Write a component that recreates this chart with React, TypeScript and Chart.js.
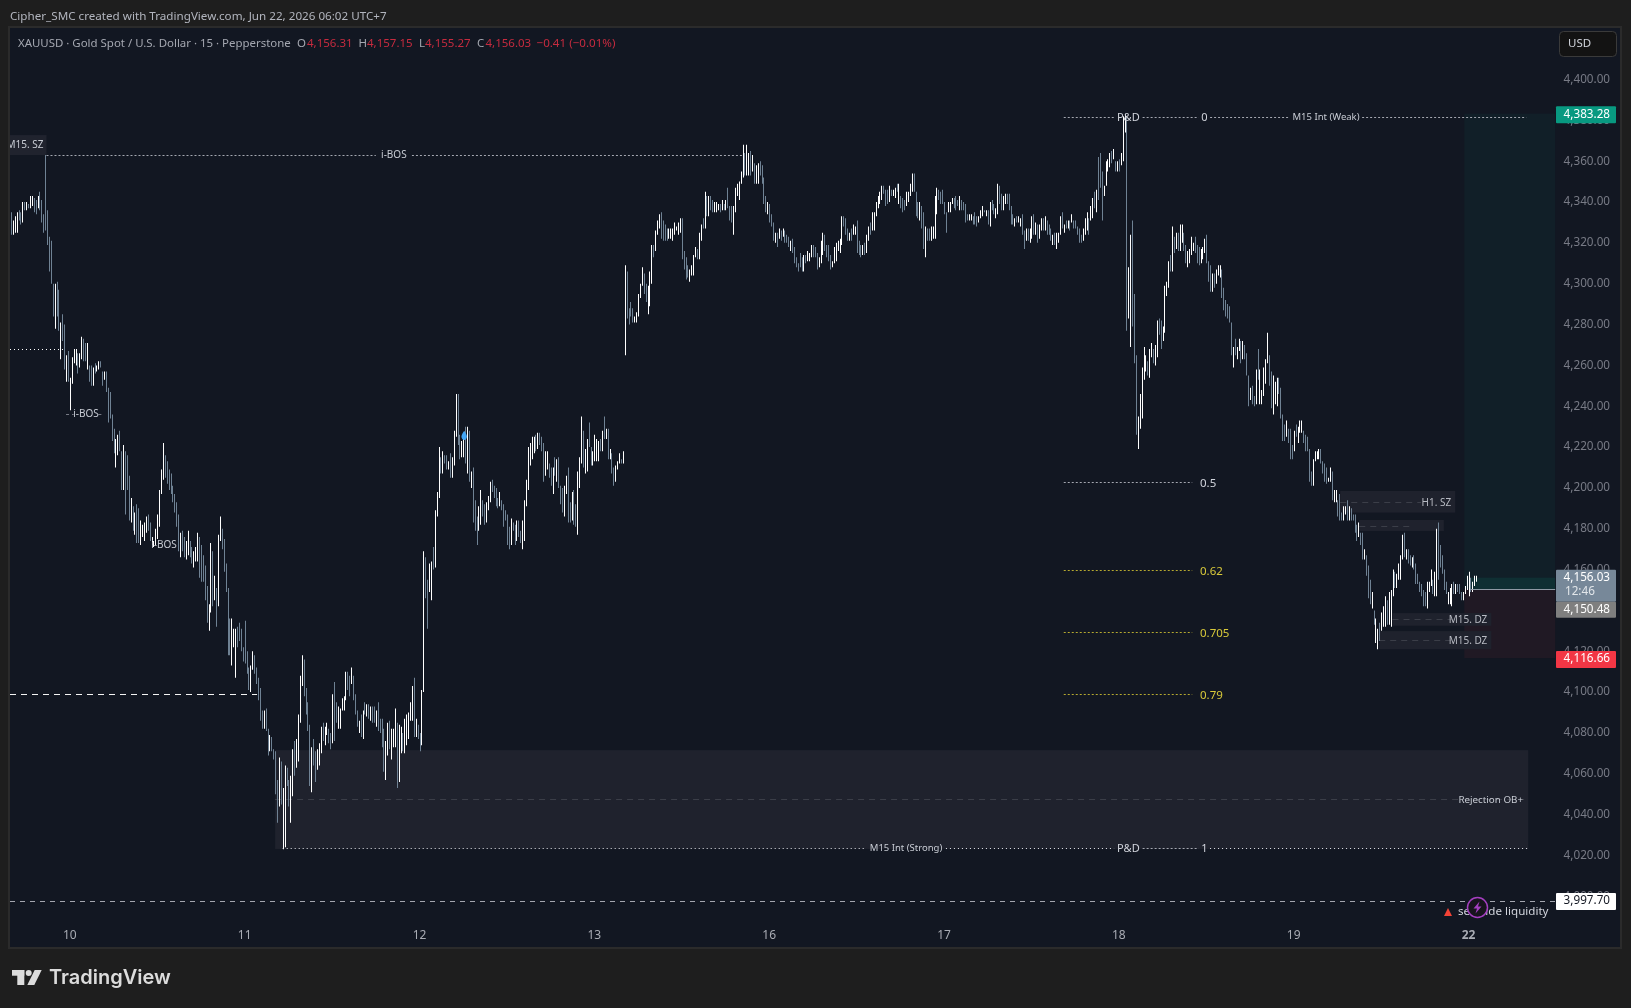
import React, { useEffect, useRef } from "react";
import { Chart, registerables } from "chart.js";

Chart.register(...registerables);

const FONT = '"Noto Sans", sans-serif';
const PANE = "#121722";
const BOX = "#1f222d";

// ---- day labels on the time axis: label and the bar it sits under ----
const dayNames = ["10", "11", "12", "13", "16", "17", "18", "19", "22"];
const dayBars = [31, 123, 215, 307, 399, 491, 583, 675, 767];
const barSlots = 813;

// ---- 15-minute bars, as low / high and up(1) / down(0) ----
const lowsA = [4324,4324,4325,4325,4331,4329,4330,4336,4336,4337,4337,4338,4335,4334,4337,4336,4330,4325,4326,4319,
4306,4300,4284,4278,4284,4277,4263,4272,4258,4252,4252,4238,4251,4261,4260,4256,4259,4263,4262,4262,
4258,4252,4250,4250,4256,4257,4258,4259,4250,4253,4247,4232,4234,4223,4217,4210,4216,4218,4199,4199,
4187,4199,4184,4183,4179,4177,4173,4173,4172,4176,4174,4178,4179,4174,4172,4171,4172,4175,4181,4197,
4204,4205,4202,4199,4197,4193,4188,4181,4169,4166,4169,4166,4165,4167,4166,4163,4161,4164,4164,4156];
const highsA = [4335,4331,4333,4335,4336,4335,4340,4340,4340,4339,4343,4343,4342,4341,4343,4345,4341,4334,4363,4336,
4323,4321,4300,4300,4301,4297,4281,4285,4280,4265,4267,4254,4264,4268,4268,4266,4266,4274,4273,4271,
4271,4260,4260,4259,4261,4260,4262,4262,4257,4257,4257,4249,4247,4236,4229,4224,4226,4228,4218,4221,
4218,4216,4206,4195,4191,4188,4192,4190,4184,4182,4183,4186,4187,4183,4176,4174,4180,4187,4199,4209,
4222,4216,4213,4209,4207,4201,4197,4193,4187,4178,4179,4176,4174,4179,4174,4171,4169,4171,4178,4176];
const upsA = "0111001010"+"1100100000"+"0001001001"+"0111101100"+"1001011001"+"0000011001"+"0001010011"+"1100111111"+"1000000001"+"0011001110";

const lowsB = [4154,4154,4145,4134,4130,4139,4142,4145,4132,4142,4174,4170,4159,4149,4118,4118,4113,4122,4107,4122,
4125,4120,4115,4114,4109,4101,4100,4111,4109,4104,4096,4086,4082,4082,4081,4069,4071,4071,4067,4050,
4036,4044,4045,4023,4024,4054,4044,4036,4049,4059,4063,4066,4085,4103,4098,4089,4081,4054,4051,4064,
4056,4062,4064,4070,4076,4074,4079,4075,4072,4075,4076,4085,4082,4082,4091,4091,4096,4101,4098,4104,
4096,4089,4083,4080,4078,4077,4089,4088,4087,4086,4085,4085,4083,4081,4080,4073,4061,4057,4069,4072,
4067,4073,4073,4053,4056,4070,4071,4070,4074,4077,4086,4086,4078,4078,4077,4071,4074,4100,4146,4131,
4149,4145,4160,4161,4186];
const highsB = [4172,4167,4162,4152,4143,4173,4169,4157,4151,4177,4186,4180,4175,4163,4151,4136,4136,4131,4131,4132,
4134,4131,4122,4135,4120,4112,4113,4120,4118,4112,4107,4102,4091,4091,4092,4082,4079,4078,4072,4071,
4057,4068,4066,4053,4064,4063,4057,4059,4072,4076,4077,4089,4108,4118,4116,4102,4095,4084,4073,4077,
4071,4072,4075,4083,4085,4083,4085,4082,4080,4099,4105,4095,4093,4092,4097,4098,4110,4110,4108,4112,
4108,4099,4091,4086,4089,4091,4095,4094,4094,4093,4093,4093,4091,4095,4087,4087,4082,4076,4085,4086,
4082,4082,4092,4085,4084,4083,4080,4087,4089,4090,4095,4103,4107,4087,4084,4080,4101,4169,4166,4155,
4163,4164,4171,4189,4198];
const upsB = "0000110101"+"1000001110"+"0000001100"+"0001001000"+"0101100110"+"1111000010"+"0111011001"+"0011111001"+"0001010101"+"0010000110"+"1110110111"+"1101001100"+"11011";

const lowsC = [4195,4207,4207,4212,4209,4209,4205,4205,4211,4225,4221,4214,4215,4215,4212,4207,4203,4200,4183,4179,
4172,4179,4182,4186,4182,4183,4189,4193,4198,4195,4191,4190,4191,4189,4181,4184,4172,4170,4172,4179,
4172,4174,4176,4173,4170,4174,4191,4199,4211,4214,4217,4218,4219,4221,4218,4203,4206,4209,4205,4201,
4197,4206,4203,4200,4192,4188,4186,4197,4183,4183,4184,4182,4181,4177,4200,4212,4210,4207,4208,4220,
4211,4211,4213,4213,4213,4218,4218,4224,4224,4214,4214,4207,4201,4203,4209,4212,4212,4212];
const highsC = [4220,4215,4218,4216,4216,4213,4217,4215,4228,4246,4246,4226,4223,4224,4230,4230,4228,4208,4210,4194,
4186,4191,4199,4194,4192,4193,4196,4203,4204,4201,4200,4195,4198,4194,4192,4189,4187,4181,4185,4183,
4182,4184,4184,4179,4184,4194,4204,4220,4222,4225,4225,4226,4227,4227,4225,4222,4218,4218,4212,4210,
4210,4215,4214,4215,4201,4200,4201,4206,4210,4193,4198,4199,4192,4208,4215,4235,4228,4219,4224,4232,
4220,4218,4226,4224,4223,4224,4228,4235,4229,4229,4219,4217,4210,4211,4213,4217,4214,4218];
const upsC = "1010010111"+"0011010100"+"0110011100"+"0010000010"+"0100111111"+"1010001100"+"1010001100"+"1001110110"+"0111101010"+"10011101";

const lowsD = [4265,4283,4280,4284,4281,4281,4281,4284,4293,4299,4295,4291,4285,4289,4300,4313,4316,4324,4327,4322,
4321,4321,4321,4322,4322,4321,4324,4326,4324,4325,4312,4307,4302,4303,4301,4304,4304,4313,4312,4312,
4321,4327,4327,4333,4333,4336,4335,4335,4335,4336,4335,4336,4336,4336,4337,4331,4330,4324,4335,4343,
4341,4349,4352,4353,4353,4353,4353,4355,4349,4349,4349,4353,4349,4339,4335,4334,4330,4328,4321,4320,
4318,4322,4321,4323,4320,4320,4318,4316,4315,4310,4308,4306,4308,4306,4306,4310,4311,4311,4313,4313,
4313,4307,4308];
const highsD = [4309,4306,4288,4291,4288,4284,4286,4295,4300,4308,4305,4300,4299,4306,4319,4319,4326,4331,4334,4335,
4331,4329,4327,4327,4327,4327,4330,4328,4330,4332,4332,4316,4313,4309,4307,4309,4314,4318,4317,4325,
4329,4332,4345,4343,4343,4343,4341,4340,4340,4339,4339,4341,4339,4341,4347,4338,4338,4338,4347,4349,
4350,4355,4368,4364,4368,4364,4365,4363,4359,4358,4359,4360,4358,4352,4343,4340,4339,4334,4330,4325,
4325,4327,4326,4327,4326,4324,4323,4321,4322,4318,4313,4310,4315,4313,4314,4314,4316,4315,4319,4319,
4318,4315,4313];
const upsD = "1000011111"+"0011101110"+"0001111111"+"0000111101"+"1010100111"+"0101000111"+"1110110101"+"1000010001"+"0101000100"+"0000101110"+"001";

const lowsE = [4310,4314,4316,4313,4311,4307,4308,4310,4311,4316,4315,4319,4328,4324,4321,4321,4321,4324,4324,4315,
4314,4313,4314,4314,4315,4321,4324,4326,4326,4333,4337,4339,4341,4344,4338,4339,4340,4343,4343,4342,
4345,4339,4337,4335,4336,4338,4340,4343,4345,4345,4333,4332,4331,4327,4317,4313,4321,4321,4321,4322,
4322,4334,4341,4339,4339,4334,4325,4335,4335,4339,4337,4336,4338,4336,4336,4336,4330,4331,4331,4331,
4329,4329,4328,4330,4332,4333,4335,4333,4329,4328,4336,4334,4332,4334,4339,4336,4336,4339,4339,4336,
4329,4329,4328,4330,4330,4328,4324,4317,4321,4321,4320,4322,4324,4324,4320,4322,4326,4326,4326,4324,
4324,4321,4319,4319,4317,4320,4324,4327,4325,4327,4327,4326,4330,4327,4327,4324,4320,4320,4321,4324,
4326,4324,4331,4332,4337,4335,4341,4347,4331,4343,4348,4355];
const highsE = [4321,4325,4324,4319,4319,4314,4311,4318,4320,4321,4322,4333,4333,4332,4327,4325,4327,4329,4328,4331,
4321,4319,4319,4320,4324,4328,4330,4335,4335,4340,4343,4345,4348,4348,4346,4346,4348,4346,4346,4347,
4349,4349,4343,4342,4341,4345,4345,4349,4354,4354,4345,4340,4340,4338,4335,4328,4327,4327,4328,4328,
4343,4347,4346,4345,4346,4340,4335,4340,4340,4342,4342,4343,4341,4343,4341,4340,4339,4334,4334,4334,
4333,4335,4333,4333,4336,4338,4336,4336,4336,4340,4341,4339,4337,4349,4348,4344,4343,4344,4344,4344,
4338,4334,4332,4333,4333,4332,4334,4326,4327,4327,4327,4333,4334,4330,4329,4329,4332,4332,4333,4331,
4329,4327,4324,4325,4325,4325,4333,4335,4329,4331,4331,4331,4334,4331,4331,4328,4327,4324,4327,4332,
4335,4332,4338,4342,4345,4346,4362,4364,4355,4348,4360,4361];
const upsE = "1100001111"+"1100010110"+"0010110111"+"1110001011"+"0100011110"+"0010010011"+"1100000111"+"0001000011"+"0001110101"+"0011001100"+"0010110010"+"1101011010"+"0010111010"+"1010000011"+"1011010001"+"11";

const lowsF = [4357,4359,4361,4355,4355,4355,4358,4360,4374,4277,4283,4269,4279,4261,4226,4219,4229,4234,4253,4257,
4255,4254,4264,4261,4260,4264,4275,4268,4272,4276,4294,4298,4306,4306,4315,4317,4316,4316,4320,4316,
4310,4308,4310,4314,4316,4315,4310,4309,4310,4312,4315,4310,4301,4296,4296,4298,4300,4304,4303,4293,
4287,4284,4283,4281,4265,4259,4265,4263,4267,4261,4263,4263,4255,4240,4243,4241,4240,4241,4253,4241,
4241,4245,4251,4261,4250,4239,4236,4241,4240,4246,4234,4223,4223,4225,4222,4214,4214,4218,4225,4222,
4227,4227,4222,4218,4218];
const highsF = [4364,4365,4366,4360,4360,4361,4364,4382,4383,4382,4308,4324,4331,4295,4265,4235,4246,4259,4269,4265,
4262,4268,4271,4268,4270,4282,4283,4282,4279,4299,4301,4311,4314,4328,4323,4325,4325,4329,4329,4325,
4319,4316,4317,4323,4320,4323,4319,4318,4317,4318,4322,4324,4311,4309,4305,4305,4307,4309,4309,4307,
4298,4292,4290,4289,4281,4269,4273,4269,4273,4272,4272,4270,4266,4255,4249,4250,4245,4258,4268,4258,
4248,4259,4263,4276,4265,4257,4255,4252,4254,4254,4249,4236,4231,4233,4229,4229,4221,4228,4231,4230,
4233,4233,4228,4226,4225];
const upsF = "1010101110"+"1100011111"+"0110110011"+"1101010110"+"0111100011"+"1000101110"+"0000010110"+"1000100101"+"1111001110"+"0001000101"+"11000";

const lowsG = [4203,4201,4201,4213,4214,4214,4212,4207,4203,4202,4203,4203,4194,4193,4193,4186,4184,4184,4184,4187,4184,4184,4184,4184,4178];
const highsG = [4219,4208,4214,4218,4218,4219,4219,4213,4212,4210,4205,4210,4208,4199,4199,4194,4197,4188,4191,4191,4194,4191,4190,4187,4187];
const upsG = "0011110000"+"1101100011"+"01000";

const lowsH = [4174,4176,4172,4165,4165,4157,4146,4143,4141,4133,4124,4121,4125,4130,4132,4132,4133,4133,4132,4147,
4151,4151,4155,4155,4165,4166,4165,4163,4162,4161,4160,4153,4153,4149,4147,4142,4142,4141,4149,4152,
4148,4147,4147,4155,4161,4158,4150,4148,4143,4143,4142,4148,4148,4149,4148,4145,4145,4148,4150,4147,
4149,4149,4152,4154];
const highsH = [4182,4183,4178,4178,4170,4167,4162,4155,4149,4140,4136,4131,4134,4139,4142,4147,4145,4149,4150,4160,
4159,4158,4163,4167,4177,4178,4170,4170,4167,4166,4167,4163,4158,4154,4153,4150,4149,4154,4154,4160,
4155,4159,4180,4183,4172,4167,4160,4154,4149,4151,4153,4154,4153,4153,4153,4149,4149,4152,4157,4159,
4156,4154,4157,4157];
const upsH = "0100100010"+"1101110111"+"0111101001"+"0000000111"+"0110000011"+"1010001111"+"0111";

const lows = [...lowsA, ...lowsB, ...lowsC, ...lowsD, ...lowsE, ...lowsF, ...lowsG, ...lowsH];
const highs = [...highsA, ...highsB, ...highsC, ...highsD, ...highsE, ...highsF, ...highsG, ...highsH];
const ups = (upsA + upsB + upsC + upsD + upsE + upsF + upsG + upsH).split("");

// ---- fib / structure levels ----
const fibLabels = ["0.5", "0.62", "0.705", "0.79"];
const fibPrices = [4202.7, 4159.6, 4129.3, 4098.9];
const fibColors = ["#a4a7b0", "#b5a92f", "#b5a92f", "#b5a92f"];
const fibTextColors = ["#d1d4dc", "#d8c93a", "#d8c93a", "#d8c93a"];
const topLevel = 4381.8;
const bottomLevel = 4023.5;
const ibosLevel = 4363;
const ibos2Level = 4236;
const dottedLevel = 4268;
const dashedLevel = 4098.9;
const liquidityLevel = 3997.7;

// ---- zones ----
const obTop = 4071.6, obBottom = 4023.2, obMid = 4047.5;
const zoneNames = ["H1. SZ", "", "M15. DZ", "M15. DZ"];
const zoneFrom = [699.5, 709.5, 727, 720];
const zoneTo = [760, 754, 779, 779];
const zoneTop = [4198.5, 4184.3, 4138.7, 4129.9];
const zoneBottom = [4187.9, 4178.9, 4132.5, 4121];
const zoneMid = [4193, 4181.5, 4135.8, 4125.3];

// ---- position tool and price badges ----
const targetPrice = 4383.28, lastPrice = 4156.03, entryPrice = 4150.48, stopPrice = 4116.66;

function drawAll(chart: any, phase: string) {
  const ctx = chart.ctx;
  const xs = chart.scales.x;
  const ys = chart.scales.y;
  const X = (i: number) => xs.getPixelForValue(i);
  const Y = (p: number) => ys.getPixelForValue(p);
  const CY = (p: number) => Math.round(Y(p)) + 0.5;

  const hline = (a: number, b: number, p: number, color: string, dash: number[]) => {
    ctx.save();
    ctx.strokeStyle = color;
    ctx.lineWidth = 1;
    ctx.setLineDash(dash);
    ctx.beginPath();
    ctx.moveTo(X(a), CY(p));
    ctx.lineTo(X(b), CY(p));
    ctx.stroke();
    ctx.restore();
  };
  const label = (s: string, x: number, y: number, color: string, size: number, align: CanvasTextAlign = "center") => {
    ctx.save();
    ctx.font = `${size}px ${FONT}`;
    ctx.textAlign = align;
    ctx.textBaseline = "middle";
    ctx.fillStyle = color;
    ctx.fillText(s, x, y);
    ctx.restore();
  };
  const box = (a: number, b: number, top: number, bottom: number, color: string) => {
    ctx.fillStyle = color;
    ctx.fillRect(X(a), Y(top), X(b) - X(a), Y(bottom) - Y(top));
  };

  if (phase === "before") {
    // outer frame and pane
    ctx.fillStyle = "#1e1e1e";
    ctx.fillRect(0, 0, 1631, 1008);
    ctx.fillStyle = PANE;
    ctx.fillRect(10, 28, 1610, 919);
    ctx.strokeStyle = "#2b2b2b";
    ctx.lineWidth = 2;
    ctx.strokeRect(9, 27, 1612, 921);
    return;
  }

  if (phase === "under") {
    box(764.8, 812.6, targetPrice, entryPrice, "rgba(8,153,129,0.065)");
    box(764.8, 812.6, entryPrice, stopPrice, "rgba(242,54,69,0.065)");
    box(768, 812.6, lastPrice, entryPrice, "rgba(8,153,129,0.13)");
    box(139, 798.4, obTop, obBottom, BOX);
    box(-0.5, 18.7, 4372.8, ibosLevel, "#20232e");
    zoneNames.forEach((_n, i) => box(zoneFrom[i], zoneTo[i], zoneTop[i], zoneBottom[i], BOX));
    hline(139, 798.4, obMid, "#3b3e48", [6, 5]);
    zoneNames.forEach((_n, i) => hline(zoneFrom[i], zoneTo[i] - 18, zoneMid[i], "#3b3e48", [6, 5]));
    return;
  }

  // ---- over the bars ----
  const lineCol = "#a4a7b0";
  const tick = [2, 2];
  hline(18.7, 192, ibosLevel, lineCol, tick);
  hline(211, 385, ibosLevel, lineCol, tick);
  label("i-BOS", X(201.5), CY(ibosLevel), "#c8ccd4", 10, "center");
  hline(-0.5, 27.4, dottedLevel, "#ffffff", [1, 3]);
  hline(29, 33, ibos2Level, "#787b86", [3, 3]);
  hline(46, 49, ibos2Level, "#787b86", [3, 3]);
  label("i-BOS", X(39.5), CY(ibos2Level), "#c8ccd4", 10, "center");
  label("i-BOS", X(80.5), Y(4172), "#c8ccd4", 10, "center");
  hline(-0.5, 129.5, dashedLevel, "#f4f4f4", [6, 5]);
  hline(-0.5, 812.6, liquidityLevel, "#a4a7b0", [5, 5]);

  hline(554, 580.5, topLevel, lineCol, tick);
  hline(595.5, 625, topLevel, lineCol, tick);
  hline(631, 673, topLevel, lineCol, tick);
  hline(711, 797.4, topLevel, lineCol, tick);
  label("P&D", X(588), CY(topLevel), "#d1d4dc", 11, "center");
  label("0", X(628), CY(topLevel), "#d1d4dc", 11, "center");
  label("M15 Int (Weak)", X(692), CY(topLevel), "#c8ccd4", 9.5, "center");

  const dots = [1, 3];
  hline(143, 450, bottomLevel, "#e6e8ee", dots);
  hline(492, 580.5, bottomLevel, "#e6e8ee", dots);
  hline(595.5, 625, bottomLevel, lineCol, tick);
  hline(631, 798.4, bottomLevel, "#e6e8ee", dots);
  label("M15 Int (Strong)", X(471), CY(bottomLevel), "#c8ccd4", 9.5, "center");
  label("P&D", X(588), CY(bottomLevel), "#d1d4dc", 11, "center");
  label("1", X(628), CY(bottomLevel), "#d1d4dc", 11, "center");

  fibLabels.forEach((s, i) => {
    hline(554, 621.6, fibPrices[i], fibColors[i], tick);
    label(s, 1200, CY(fibPrices[i]) + 1, fibTextColors[i], 11.5, "left");
  });

  label("Rejection OB+", 1523, CY(obMid) + 1, "#c8ccd4", 9.8, "right");
  ctx.save();
  ctx.beginPath();
  ctx.rect(10, 130, 60, 30);
  ctx.clip();
  label("M15. SZ", 43.5, 145, "#c8ccd4", 10, "right");
  ctx.restore();
  zoneNames.forEach((s, i) => {
    if (s) label(s, X(zoneTo[i]) - 4, CY(zoneMid[i]) + 1, "#b8bbc3", 10, "right");
  });

  // entry line of the position tool
  ctx.fillStyle = "#8f9aa5";
  ctx.fillRect(X(768), Math.round(Y(entryPrice)), X(812.6) - X(768), 1);

  // blue marker
  ctx.fillStyle = "#42a5f5";
  const mx = X(238.5), my = Y(4225.5);
  ctx.beginPath();
  ctx.moveTo(mx, my - 5);
  ctx.quadraticCurveTo(mx + 3.5, my, mx + 2.5, my + 2);
  ctx.arc(mx, my + 1.5, 2.6, 0.2, Math.PI - 0.2);
  ctx.quadraticCurveTo(mx - 3.5, my, mx, my - 5);
  ctx.fill();

  // sell-side liquidity
  ctx.fillStyle = "#f44336";
  ctx.beginPath();
  ctx.moveTo(1448, 908);
  ctx.lineTo(1452, 916);
  ctx.lineTo(1444, 916);
  ctx.closePath();
  ctx.fill();
  label("sell-side liquidity", 1458, 912, "#d1d4dc", 11.6, "left");
  ctx.beginPath();
  ctx.arc(1477.5, 907.5, 10, 0, Math.PI * 2);
  ctx.fillStyle = "#17141d";
  ctx.fill();
  ctx.lineWidth = 1.5;
  ctx.strokeStyle = "#a43fc0";
  ctx.stroke();
  ctx.fillStyle = "#a43fc0";
  ctx.beginPath();
  ctx.moveTo(1479.5, 901.5);
  ctx.lineTo(1473.5, 908.5);
  ctx.lineTo(1477, 908.5);
  ctx.lineTo(1475.5, 913.5);
  ctx.lineTo(1481.5, 906.5);
  ctx.lineTo(1478, 906.5);
  ctx.closePath();
  ctx.fill();

  // price badges
  const badge = (top: number, h: number, bg: string) => {
    ctx.fillStyle = bg;
    ctx.beginPath();
    ctx.roundRect(1556, top, 60, h, 1);
    ctx.fill();
  };
  const bx = 1610;
  const by = (p: number) => Y(p);
  const sz = 11.7;
  badge(by(targetPrice) - 7.5, 17, "#089981");
  label("4,383.28", bx, by(targetPrice) + 1, "#ffffff", sz, "right");
  badge(by(lastPrice) - 8, 32, "#778899");
  label("4,156.03", bx, by(lastPrice), "#ffffff", sz, "right");
  label("12:46", 1565, by(lastPrice) + 14, "#e2e6ea", sz, "left");
  badge(by(lastPrice) + 24, 16, "#7f7f7f");
  label("4,150.48", bx, by(lastPrice) + 32, "#ffffff", sz, "right");
  badge(by(stopPrice) - 7, 17, "#f23645");
  label("4,116.66", bx, by(stopPrice) + 1, "#ffffff", sz, "right");
  badge(by(liquidityLevel) - 8, 17, "#ffffff");
  label("3,997.70", bx, by(liquidityLevel), "#131722", sz, "right");

  // USD button
  ctx.fillStyle = "#131313";
  ctx.strokeStyle = "#3a3a3a";
  ctx.lineWidth = 1;
  ctx.beginPath();
  ctx.roundRect(1559.5, 31.5, 57, 25, 4);
  ctx.fill();
  ctx.stroke();
  label("USD", 1568, 44, "#d1d4dc", 11.5, "left");

  // header texts
  label("Cipher_SMC created with TradingView.com, Jun 22, 2026 06:02 UTC+7", 10, 16.5, "#b2b5be", 11.65, "left");
  const hy = 44;
  label("XAUUSD · Gold Spot / U.S. Dollar · 15 · Pepperstone", 18, hy, "#a4a7b0", 11.45, "left");
  const red = "#c62b3f";
  const gray = "#a4a7b0";
  label("O", 297, hy, gray, 11.5, "left");
  label("4,156.31", 307, hy, red, 11.5, "left");
  label("H", 358.5, hy, gray, 11.5, "left");
  label("4,157.15", 367, hy, red, 11.5, "left");
  label("L", 419, hy, gray, 11.5, "left");
  label("4,155.27", 425, hy, red, 11.5, "left");
  label("C", 477, hy, gray, 11.5, "left");
  label("4,156.03", 485.5, hy, red, 11.5, "left");
  label("−0.41 (−0.01%)", 536.5, hy, red, 11.6, "left");

  // TradingView mark
  ctx.fillStyle = "#dcdcdc";
  ctx.fillRect(12, 970, 12.3, 5.7);
  ctx.fillRect(17.3, 970, 7, 15);
  ctx.beginPath();
  ctx.arc(28.7, 973, 3, 0, Math.PI * 2);
  ctx.fill();
  ctx.beginPath();
  ctx.moveTo(34.7, 970);
  ctx.lineTo(41.7, 970);
  ctx.lineTo(34.3, 985);
  ctx.lineTo(27.3, 985);
  ctx.closePath();
  ctx.fill();
  ctx.save();
  ctx.font = `600 20px Inter, ${FONT}`;
  ctx.textAlign = "left";
  ctx.textBaseline = "middle";
  ctx.fillText("TradingView", 49, 978);
  ctx.restore();
}

const framePlugin = {
  id: "frame",
  beforeDraw: (c: any) => drawAll(c, "before"),
  beforeDatasetsDraw: (c: any) => drawAll(c, "under"),
  afterDraw: (c: any) => drawAll(c, "over"),
  afterDatasetsUpdate: (c: any) => {
    // snap each one-pixel bar to the pixel grid so it stays crisp
    c.getDatasetMeta(0).data.forEach((el: any) => {
      el.x = Math.round(el.x) + 0.5;
    });
  },
};

export default function App() {
  const ref = useRef<HTMLCanvasElement | null>(null);
  useEffect(() => {
    const labels = Array.from({ length: barSlots }, (_, i) => {
      const k = dayBars.indexOf(i);
      return k >= 0 ? dayNames[k] : "";
    });
    const chart = new Chart(ref.current as HTMLCanvasElement, {
      type: "bar",
      data: {
        labels,
        datasets: [
          {
            data: lows.map((l, i) => [l, highs[i]]) as any,
            backgroundColor: ups.map((u) => (u === "1" ? "#ffffff" : "#6f8294")),
            barThickness: 1,
            borderWidth: 0,
            inflateAmount: 0,
          } as any,
        ],
      },
      plugins: [framePlugin],
      options: {
        responsive: false,
        devicePixelRatio: 1,
        animation: false,
        maintainAspectRatio: false,
        layout: { padding: { left: 10, top: 28, right: 21, bottom: 46 } },
        plugins: { legend: { display: false }, tooltip: { enabled: false } },
        scales: {
          x: {
            grid: { display: false, drawTicks: false },
            border: { display: false },
            afterFit: (s: any) => {
              s.height = 40;
            },
            ticks: {
              autoSkip: false,
              maxRotation: 0,
              padding: 6,
              color: "#a9acb4",
              font: (c: any) => ({
                family: FONT,
                size: 12,
                weight: c.tick && c.tick.label === "22" ? "bold" : "normal",
              }),
              callback: (_v: any, i: number) => labels[i],
            },
          },
          y: {
            position: "right",
            min: 3987.42,
            max: 4425.22,
            grid: { display: false, drawTicks: false },
            border: { display: false },
            afterFit: (s: any) => {
              s.width = 55;
            },
            ticks: {
              stepSize: 20,
              includeBounds: false,
              autoSkip: false,
              padding: 0,
              crossAlign: "far",
              color: "#787b86",
              font: { family: FONT, size: 11.7 },
              callback: (v: any) =>
                Number(v).toLocaleString("en-US", { minimumFractionDigits: 2, maximumFractionDigits: 2 }),
            },
          },
        },
      } as any,
    });
    return () => chart.destroy();
  }, []);
  return (
    <div style={{ position: "fixed", left: 0, top: 0, width: 1631, height: 1008, overflow: "hidden" }}>
      <canvas ref={ref} width={1631} height={1008} style={{ display: "block" }} />
    </div>
  );
}
